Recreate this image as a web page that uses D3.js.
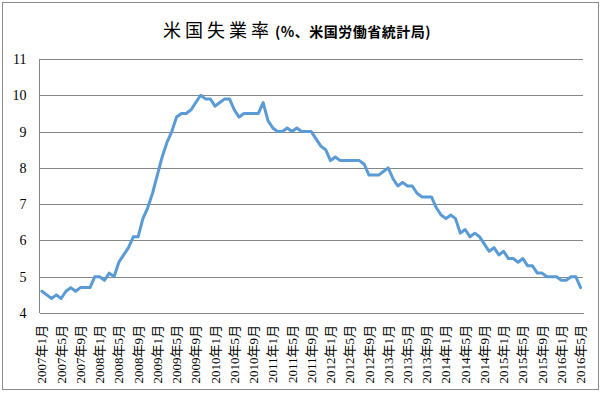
<!DOCTYPE html>
<html>
<head>
<meta charset="utf-8">
<script src="https://cdn.jsdelivr.net/npm/d3@7"></script>
<style>
  body { margin: 0; background: #fff; }
  svg { display: block; }
</style>
</head>
<body>
<svg id="chart"></svg>
<script>
// monthly unemployment rate (%), Jan of each year onward
var startYear = 2007;
var rate2007 = [4.6, 4.5, 4.4, 4.5, 4.4, 4.6, 4.7, 4.6, 4.7, 4.7, 4.7, 5.0];
var rate2008 = [5.0, 4.9, 5.1, 5.0, 5.4, 5.6, 5.8, 6.1, 6.1, 6.6, 6.9, 7.3];
var rate2009 = [7.8, 8.3, 8.7, 9.0, 9.4, 9.5, 9.5, 9.6, 9.8, 10.0, 9.9, 9.9];
var rate2010 = [9.7, 9.8, 9.9, 9.9, 9.6, 9.4, 9.5, 9.5, 9.5, 9.5, 9.8, 9.3];
var rate2011 = [9.1, 9.0, 9.0, 9.1, 9.0, 9.1, 9.0, 9.0, 9.0, 8.8, 8.6, 8.5];
var rate2012 = [8.2, 8.3, 8.2, 8.2, 8.2, 8.2, 8.2, 8.1, 7.8, 7.8, 7.8, 7.9];
var rate2013 = [8.0, 7.7, 7.5, 7.6, 7.5, 7.5, 7.3, 7.2, 7.2, 7.2, 6.9, 6.7];
var rate2014 = [6.6, 6.7, 6.6, 6.2, 6.3, 6.1, 6.2, 6.1, 5.9, 5.7, 5.8, 5.6];
var rate2015 = [5.7, 5.5, 5.5, 5.4, 5.5, 5.3, 5.3, 5.1, 5.1, 5.0, 5.0, 5.0];
var rate2016 = [4.9, 4.9, 5.0, 5.0, 4.7];
var yTicks = [4, 5, 6, 7, 8, 9, 10, 11];

var W = 603, H = 394;
var margin = {top: 59, right: 20, bottom: 81, left: 39.5};

var values = [].concat(rate2007, rate2008, rate2009, rate2010, rate2011,
                       rate2012, rate2013, rate2014, rate2015, rate2016);
// category labels "2007年1月" ...
var months = values.map(function(v, i) {
  return (startYear + Math.floor(i / 12)) + '年' + (i % 12 + 1) + '月';
});
var data = values.map(function(v, i) { return {m: months[i], v: v}; });

var svg = d3.select('#chart').attr('width', W).attr('height', H);

// outer frame
svg.append('rect')
  .attr('x', 2.5).attr('y', 2.5)
  .attr('width', 596).attr('height', 387)
  .attr('fill', '#fff')
  .attr('stroke', '#8c8c8c')
  .attr('stroke-width', 1);

// title
var title = svg.append('text')
  .attr('x', 297).attr('y', 37)
  .attr('text-anchor', 'middle')
  .style('font-family', '"Noto Sans CJK JP", sans-serif')
  .attr('fill', '#000');
title.append('tspan').text('米国失業率')
  .style('font-size', '18px')
  .style('letter-spacing', '4px');
title.append('tspan').text('(%、米国労働省統計局)')
  .attr('dx', 2)
  .style('font-size', '14px')
  .style('letter-spacing', '0.5px')
  .style('font-weight', 'bold');

var plotW = 583 - margin.left;
var plotH = H - margin.top - margin.bottom;

var x = d3.scaleBand().domain(months).range([0, plotW]);
var y = d3.scaleLinear().domain([4, 11]).range([plotH, 0]);

var g = svg.append('g')
  .attr('transform', 'translate(' + margin.left + ',' + margin.top + ')');

// gridlines + y labels
var yAxis = d3.axisLeft(y).tickValues(yTicks).tickFormat(d3.format('d'))
  .tickSize(-plotW).tickPadding(13);
var ya = g.append('g').call(yAxis);
ya.select('.domain').remove();
ya.selectAll('.tick line').attr('stroke', '#868686').attr('shape-rendering', 'crispEdges');
ya.selectAll('.tick text')
  .style('font-family', '"Liberation Serif", serif')
  .style('font-size', '14px')
  .attr('fill', '#000');

// left border of plot
g.append('line')
  .attr('x1', 0).attr('x2', 0)
  .attr('y1', 0).attr('y2', plotH)
  .attr('stroke', '#868686')
  .attr('shape-rendering', 'crispEdges');

// x axis, label every 4 months
var xAxis = d3.axisBottom(x)
  .tickValues(months.filter(function(d, i) { return i % 4 === 0; }))
  .tickSize(0);
var xa = g.append('g')
  .attr('transform', 'translate(0,' + plotH + ')')
  .call(xAxis);
xa.select('.domain').attr('stroke', '#868686').attr('shape-rendering', 'crispEdges');
xa.selectAll('.tick text')
  .style('font-family', '"Liberation Serif", "Noto Sans CJK JP", serif')
  .style('font-size', '13px')
  .attr('fill', '#000')
  .attr('text-anchor', 'end')
  .attr('dy', '0.35em')
  .attr('transform', 'translate(0,12) rotate(-90)')
  .attr('x', 0).attr('y', 0);

// the line
var line = d3.line()
  .x(function(d) { return x(d.m) + x.bandwidth() / 2; })
  .y(function(d) { return y(d.v); });

g.append('path')
  .datum(data)
  .attr('d', line)
  .attr('fill', 'none')
  .attr('stroke', '#5b9bd5')
  .attr('stroke-width', 3)
  .attr('stroke-linejoin', 'round')
  .attr('stroke-linecap', 'round');
</script>
</body>
</html>
